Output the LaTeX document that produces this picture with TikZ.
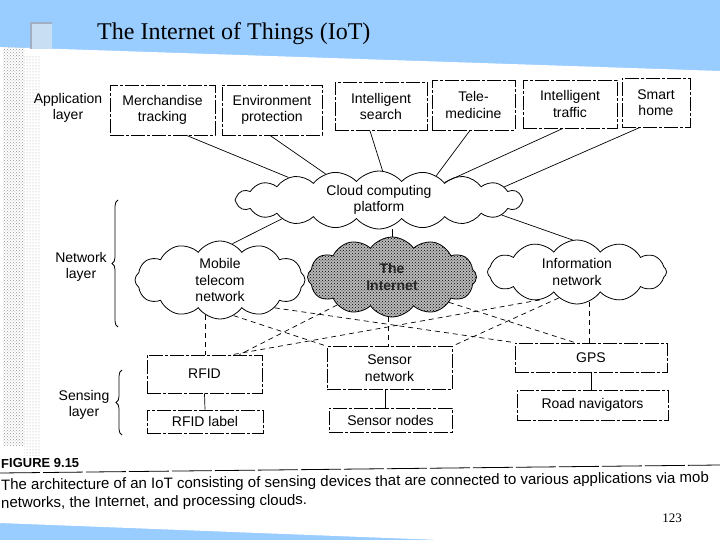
\documentclass[tikz,border=0pt]{standalone}
\usepackage{fontspec}
\setmainfont{Liberation Serif}
\setsansfont{Liberation Sans}
\usetikzlibrary{shapes.symbols,patterns,decorations.pathreplacing,calc}
\definecolor{slideblue}{RGB}{153,204,255}
\definecolor{sqfill}{RGB}{200,222,242}
\definecolor{sqedge}{RGB}{160,175,195}
\begin{document}
\begin{tikzpicture}[x=1pt,y=-1pt,
  lbl/.style={font=\sffamily\fontsize{14}{16.5}\selectfont, align=center, inner sep=0pt},
  boxnode/.style={lbl, draw, line width=0.8pt, dash pattern=on 14pt off 2pt on 3pt off 2pt},
  cloudnode/.style={lbl, cloud, cloud puffs=12, cloud puff arc=110, cloud ignores aspect, draw, line width=0.8pt},
  link/.style={line width=0.7pt},
  dlink/.style={line width=0.7pt, dash pattern=on 5pt off 4pt},
  bracestyle/.style={line width=0.8pt, decorate, decoration={brace, amplitude=6pt}},
  captext/.style={anchor=base west, rotate=0.6, inner sep=0pt, font=\sffamily\fontsize{15}{17}\selectfont}
]
\useasboundingbox (0,0) rectangle (720,540);
\clip (0,0) rectangle (720,540);
% slide background
\fill[slideblue] (0,0) rectangle (720,540);
\fill[white] (0,47) -- (720,71) -- (720,540) -- (440,540) -- (0,523) -- cycle;
\fill[pattern=crosshatch dots, pattern color=gray!80] (3,48) rectangle (24,445);
\fill[pattern=dots, pattern color=gray!70] (24,56) rectangle (40,455);
\fill[sqfill] (30,22) rectangle (52,49);
\draw[sqedge, line width=2pt] (31,49) -- (31,23) -- (52,23);
% title
\node[anchor=base west, font=\fontsize{24}{28}\selectfont, inner sep=0pt] (title) at (97,40) {The Internet of Things (IoT)};

% layer labels
\node[lbl] (applbl) at (68,108) {Application\\layer};
\node[lbl] (netlbl) at (81,267) {Network\\layer};
\node[lbl] (senlbl) at (84,405) {Sensing\\layer};
\draw[bracestyle] (118,327) -- (118,200);
\draw[bracestyle] (122,435) -- (122,370);

% application boxes
\node[boxnode, minimum width=105pt, minimum height=50pt] (merch) at (162.5,110) {Merchandise\\tracking};
\node[boxnode, minimum width=100pt, minimum height=50pt] (env) at (272,110) {Environment\\protection};
\node[boxnode, minimum width=92pt, minimum height=48pt] (search) at (381,106.5) {Intelligent\\search};
\node[boxnode, minimum width=83pt, minimum height=50pt] (tele) at (473.5,105) {Tele-\\medicine};
\node[boxnode, minimum width=94pt, minimum height=48pt] (traffic) at (570,104) {Intelligent\\traffic};
\node[boxnode, minimum width=68pt, minimum height=49pt] (home) at (656,102.5) {Smart\\home};

% clouds
\node[cloudnode, cloud puffs=20, cloud puff arc=100, minimum width=288pt, minimum height=58pt] (ccp) at (379,200) {Cloud computing\\platform};
\node[cloudnode, minimum width=170pt, minimum height=78pt] (mob) at (220,280) {Mobile\\telecom\\network};
\node[cloudnode, minimum width=169pt, minimum height=80pt, preaction={fill=gray!55}, pattern=crosshatch dots, pattern color=black, font=\sffamily\bfseries\fontsize{14}{16.5}\selectfont, text=black!85] (inet) at (392,277) {The\\Internet};
\node[cloudnode, minimum width=179pt, minimum height=64pt] (info) at (577,272) {Information\\network};

% sensing boxes
\node[boxnode, minimum width=115pt, minimum height=38pt] (rfid) at (204.5,374) {RFID};
\node[boxnode, minimum width=116pt, minimum height=23pt] (rfidl) at (205,421.5) {RFID label};
\node[boxnode, minimum width=125pt, minimum height=43pt] (sn) at (389.5,368) {Sensor\\network};
\node[boxnode, minimum width=123pt, minimum height=24pt] (snodes) at (390.5,420) {Sensor nodes};
\node[boxnode, minimum width=152pt, minimum height=29pt] (gps) at (591,357.5) {GPS};
\node[boxnode, minimum width=151pt, minimum height=30pt] (road) at (592.5,405) {Road navigators};

% application links
\draw[link] ([xshift=24pt]merch.south) -- (ccp.166);
\draw[link] ([xshift=-2pt]env.south) -- (ccp.154);
\draw[link] ([xshift=-11pt]search.south) -- (ccp.83);
\draw[link] ([xshift=-3.5pt]tele.south) -- (ccp.23);
\draw[link] ([xshift=-7pt]traffic.south) -- (ccp.15);
\draw[link] ([xshift=-16pt]home.south) -- (ccp.6);

% network links
\draw[link] (ccp.191) -- (mob.71);
\draw[link] (inet.north) -- (inet.north |- ccp.south);
\draw[link] (ccp.-7) -- (info.98);

% dashed links to sensing layer
\draw[dlink] (mob.-112) -- (mob.-112 |- rfid.north);
\draw[dlink] (mob.-69) -- (sn.north west);
\draw[dlink] (mob.-27) -- (gps.north west);
\draw[dlink] (inet.207) -- ([xshift=35pt]rfid.north);
\draw[dlink] (inet.-95) -- (inet.-95 |- sn.north);
\draw[dlink] (inet.-24) -- ([xshift=-16pt]gps.north);
\draw[dlink] (info.-143) -- ([xshift=28pt]rfid.north);
\draw[dlink] (info.-125) -- (sn.north east);
\draw[dlink] (info.-67) -- (info.-67 |- gps.north);

% sensing links
\draw[link] (rfid.south) -- (rfidl.north);
\draw[link] ([xshift=-4pt]sn.south) -- ([xshift=-5pt]snodes.north);
\draw[link] (gps.south) -- (gps.south |- road.north);

% caption
\node[anchor=base west, rotate=0.6, inner sep=0pt, font=\sffamily\bfseries\fontsize{13}{15}\selectfont] (fig) at (1,468) {FIGURE 9.15};
\draw[line width=0.8pt, dash pattern=on 40pt off 3pt] (0,473) -- (720,465);
\node[captext] (cap1) at (1,490) {The architecture of an IoT consisting of sensing devices that are connected to various applications via mob};
\node[captext] (cap2) at (1,508) {networks, the Internet, and processing clouds.};
\node[anchor=base, inner sep=0pt, font=\rmfamily\fontsize{13}{15}\selectfont] (pg) at (672,522) {123};
\end{tikzpicture}
\end{document}
